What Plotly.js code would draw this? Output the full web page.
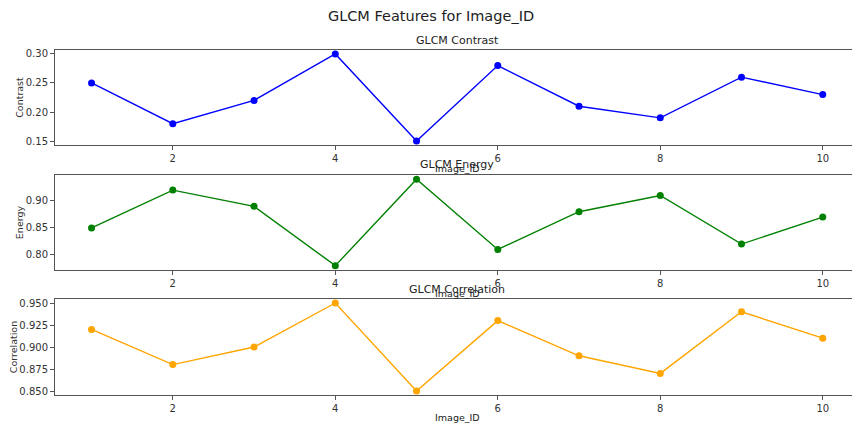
<!DOCTYPE html>
<html>
<head>
<meta charset="utf-8">
<script src="https://cdn.plot.ly/plotly-3.0.1.min.js"></script>
<style>html,body{margin:0;padding:0;background:#fff}#chart{width:852px;height:425px}</style>
</head>
<body>
<div id="chart"></div>
<script>
const imageIds = [1, 2, 3, 4, 5, 6, 7, 8, 9, 10];
const contrast = [0.25, 0.18, 0.22, 0.30, 0.15, 0.28, 0.21, 0.19, 0.26, 0.23];
const energy = [0.85, 0.92, 0.89, 0.78, 0.94, 0.81, 0.88, 0.91, 0.82, 0.87];
const correlation = [0.92, 0.88, 0.90, 0.95, 0.85, 0.93, 0.89, 0.87, 0.94, 0.91];
const xTicks = [2, 4, 6, 8, 10];
const contrastTicks = [0.15, 0.20, 0.25, 0.30];
const energyTicks = [0.80, 0.85, 0.90];
const correlationTicks = [0.850, 0.875, 0.900, 0.925, 0.950];

const FONT = 'DejaVu Sans, sans-serif';
const AX = '#555';
const H = 425;
const py = p => 1 - p / H;

function trace(y, color, xa, ya) {
  return {x: imageIds, y: y, xaxis: xa, yaxis: ya, type: 'scatter', mode: 'lines+markers',
    line: {color: color, width: 1.4}, marker: {color: color, size: 7}, hoverinfo: 'x+y'};
}
function xax(anchor) {
  return {anchor: anchor, range: [0.55, 10.36], tickvals: xTicks, ticks: 'outside', ticklen: 4,
    tickcolor: AX, showline: true, mirror: true, linecolor: AX, linewidth: 1, showgrid: false,
    zeroline: false, tickfont: {size: 10, color: '#333', family: FONT}, domain: [0, 1]};
}
function yax(anchor, range, ticks, fmt, top, bottom, title) {
  return {anchor: anchor, range: range, tickvals: ticks, tickformat: fmt, ticks: 'outside', ticklen: 4,
    tickcolor: AX, showline: true, linecolor: AX, linewidth: 1, showgrid: false, zeroline: false,
    tickfont: {size: 10, color: '#333', family: FONT}, domain: [py(bottom), py(top)],
    title: {text: title, font: {size: 9.5, color: '#333', family: FONT}, standoff: 0}};
}

const data = [
  trace(contrast, '#0000ff', 'x', 'y'),
  trace(energy, '#008000', 'x2', 'y2'),
  trace(correlation, '#ffa500', 'x3', 'y3')
];

function ann(text, x, y, size) {
  return {text: text, x: x, y: y, xref: 'x', yref: 'paper', showarrow: false,
    xanchor: 'center', yanchor: 'middle', font: {size: size, color: '#222', family: FONT}};
}

const layout = {
  width: 852, height: 425,
  margin: {l: 55, r: 0, t: 0, b: 0},
  paper_bgcolor: '#fff', plot_bgcolor: '#fff',
  showlegend: false,
  title: {text: 'GLCM Features for Image_ID', x: 431 / 852, xref: 'container', xanchor: 'center',
    y: py(16), yref: 'container', yanchor: 'middle', font: {size: 14.5, color: '#222', family: FONT}},
  xaxis: xax('y'),
  xaxis2: xax('y2'),
  xaxis3: xax('y3'),
  yaxis: yax('x', [0.1425, 0.3075], contrastTicks, '.2f', 49.6, 145.4, 'Contrast'),
  yaxis2: yax('x2', [0.772, 0.948], energyTicks, '.2f', 175, 270, 'Energy'),
  yaxis3: yax('x3', [0.845, 0.955], correlationTicks, '.3f', 298.6, 395.4, 'Correlation'),
  annotations: [
    ann('GLCM Contrast', 5.5, py(40), 11),
    ann('GLCM Energy', 5.5, py(164.5), 11),
    ann('GLCM Correlation', 5.5, py(289.5), 11),
    ann('Image_ID', 5.5, py(168.5), 9.5),
    ann('Image_ID', 5.5, py(293.5), 9.5),
    ann('Image_ID', 5.5, py(417.5), 9.5)
  ]
};

Plotly.newPlot('chart', data, layout, {displayModeBar: false, staticPlot: true});
</script>
</body>
</html>
